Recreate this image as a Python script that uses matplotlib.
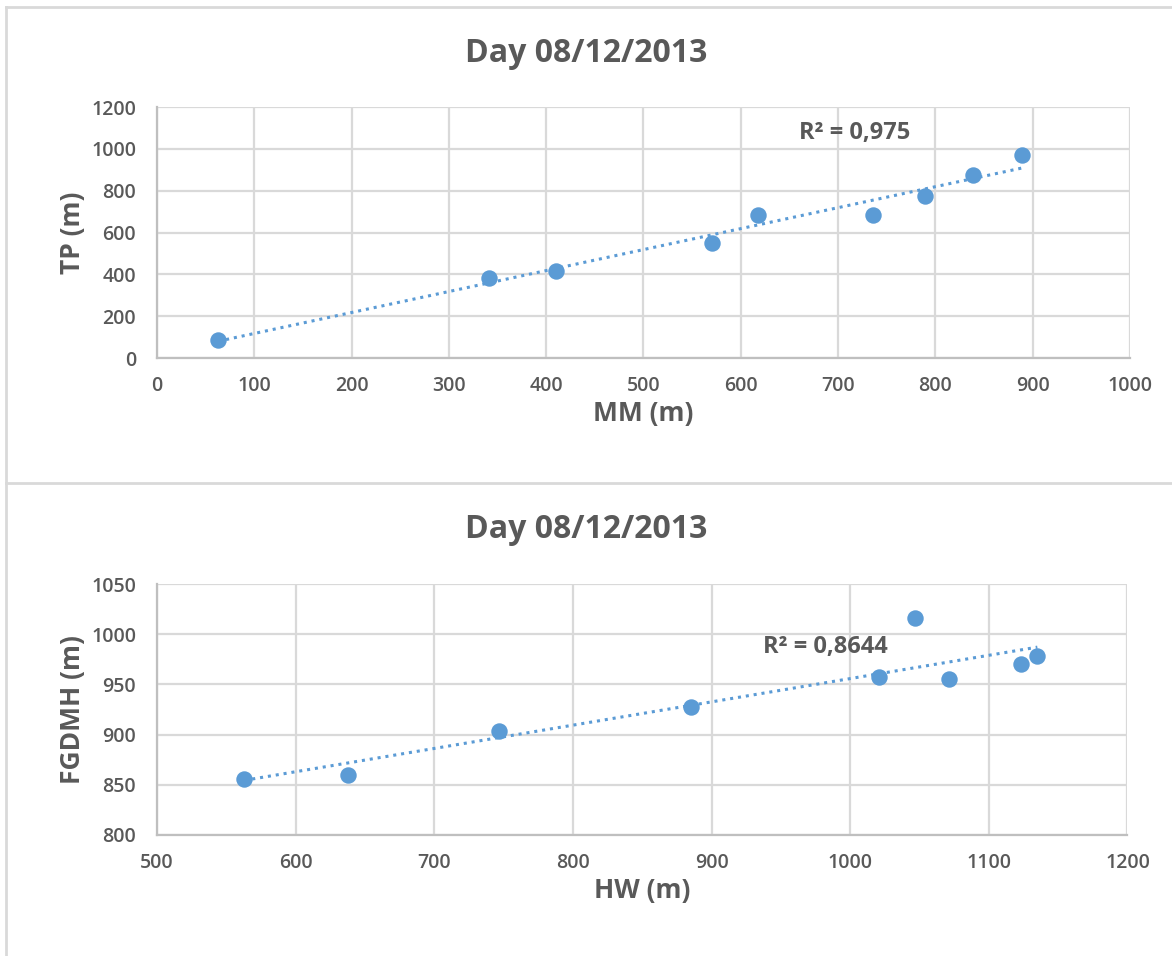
import matplotlib.pyplot as plt
import numpy as np

plt.switch_backend("agg")

# top chart: MM vs TP
mm_x = [63, 341, 410, 571, 618, 736, 789, 839, 889]
tp_y = [88, 383, 415, 550, 684, 684, 776, 874, 970]
top_r2 = "R² = 0,975"

# bottom chart: HW vs FGDMH
hw_x = [563, 638, 747, 885, 1021, 1047, 1071, 1123, 1135]
fg_y = [856, 860, 904, 928, 957, 1016, 955, 970, 978]
bottom_r2 = "R² = 0,8644"

title = "Day 08/12/2013"

BLUE = "#5B9BD5"
TEXT = "#595959"
GRID = "#D9D9D9"
FONT = ["Open Sans", "DejaVu Sans"]


def excel_scatter(ax, x, y, xlim, ylim, xticks, yticks, xlabel, ylabel, r2, r2_pos):
    x = np.array(x, dtype=float)
    y = np.array(y, dtype=float)
    # linear trendline
    k, b = np.polyfit(x, y, 1)
    xt = np.array([x.min(), x.max()])
    ax.plot(xt, k * xt + b, linestyle=(0, (1, 1.6)), color=BLUE, lw=2.2, zorder=3)
    ax.scatter(x, y, s=140, color=BLUE, zorder=4, linewidths=0)

    ax.set_xlim(*xlim)
    ax.set_ylim(*ylim)
    ax.set_xticks(xticks)
    ax.set_yticks(yticks)
    ax.grid(True, color=GRID, lw=1.6)
    ax.set_axisbelow(True)
    for s in ["top", "right"]:
        ax.spines[s].set_visible(False)
    for s in ["left", "bottom"]:
        ax.spines[s].set_color("#BFBFBF")
        ax.spines[s].set_linewidth(1.6)
    ax.tick_params(axis="y", length=0, pad=15, labelsize=14, labelcolor=TEXT)
    ax.tick_params(axis="x", length=0, pad=13, labelsize=14, labelcolor=TEXT)
    for lab in ax.get_xticklabels() + ax.get_yticklabels():
        lab.set_family(FONT)
        lab.set_fontweight("semibold")
    ax.set_xlabel(xlabel, fontsize=19, color=TEXT, fontweight="bold", family=FONT, labelpad=3)
    ax.set_ylabel(ylabel, fontsize=19, color=TEXT, fontweight="bold", family=FONT, labelpad=4)
    ax.text(r2_pos[0], r2_pos[1], r2, fontsize=17, color=TEXT, fontweight="bold",
            family=FONT, ha="center", va="center")


fig = plt.figure(figsize=(11.72, 9.56), dpi=100)

ax1 = fig.add_axes([0.134, 0.6255, 0.830, 0.2625])
excel_scatter(ax1, mm_x, tp_y, (0, 1000), (0, 1200), range(0, 1001, 100), range(0, 1201, 200),
              "MM (m)", "TP (m)", top_r2, (717, 1075))

ax2 = fig.add_axes([0.134, 0.1266, 0.828, 0.2624])
excel_scatter(ax2, hw_x, fg_y, (500, 1200), (800, 1050), range(500, 1201, 100), range(800, 1051, 50),
              "HW (m)", "FGDMH (m)", bottom_r2, (982, 987))

fig.text(0.5, 1 - 54 / 956, title, fontsize=23, color=TEXT, fontweight="bold", family=FONT,
         ha="center", va="center")
fig.text(0.5, 1 - 530 / 956, title, fontsize=23, color=TEXT, fontweight="bold", family=FONT,
         ha="center", va="center")

# chart frames
fig.add_artist(plt.Line2D([6 / 1172, 6 / 1172], [0, 1 - 7 / 956], transform=fig.transFigure,
                          color="#D9D9D9", lw=2))
fig.add_artist(plt.Line2D([6 / 1172, 1], [1 - 7 / 956, 1 - 7 / 956], transform=fig.transFigure,
                          color="#D9D9D9", lw=2))
fig.add_artist(plt.Line2D([6 / 1172, 1], [1 - 483 / 956, 1 - 483 / 956], transform=fig.transFigure,
                          color="#D9D9D9", lw=2))

fig.savefig("out.png", dpi=100, facecolor="white")
